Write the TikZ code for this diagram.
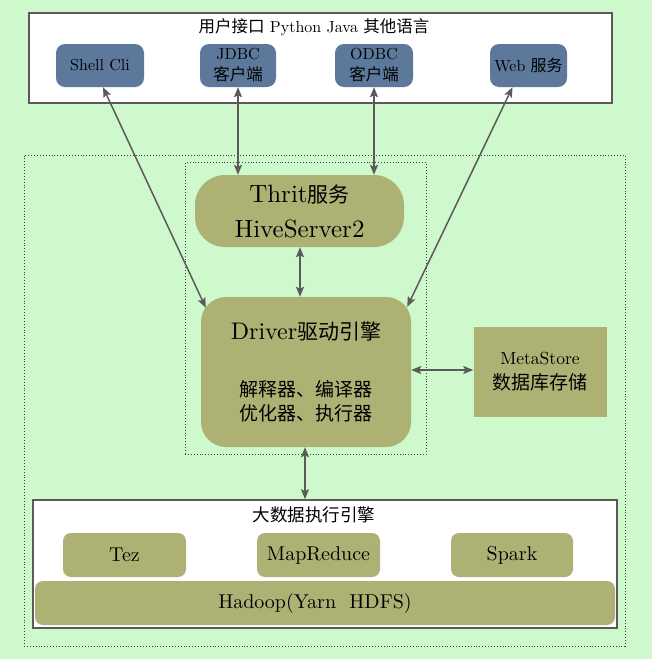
\documentclass[tikz,border=0pt]{standalone}
\usepackage{fontspec}
\setmainfont{lmroman10-regular.otf}
\newfontfamily\cjk{Noto Sans CJK SC}
\newcommand\latpart[2]{{\fontsize{#1}{#1}\selectfont #2}}
\newcommand\hanpart[2]{{\cjk\fontsize{#1}{#1}\selectfont #2}}
\usetikzlibrary{arrows.meta}
\definecolor{bggreen}{RGB}{205,249,205}
\definecolor{hiveolive}{RGB}{173,178,116}
\definecolor{hiveblue}{RGB}{92,121,156}
\definecolor{framegray}{RGB}{94,89,89}
\tikzset{
  groupbox/.style={draw=framegray, line width=1.6pt, fill=white, inner sep=0pt},
  dotbox/.style={draw=black!75, dotted, line width=0.9pt, inner sep=0pt},
  client/.style={fill=hiveblue, rounded corners=9pt, inner sep=0pt, align=center,
    font=\fontsize{16}{21}\selectfont},
  engine/.style={fill=hiveolive, rounded corners=8pt, inner sep=0pt, align=center,
    font=\fontsize{20}{24}\selectfont},
  caption/.style={inner sep=0pt, align=center},
  link/.style={draw=framegray, line width=1.5pt,
    {Stealth[length=10pt,width=8pt,inset=2pt]}-{Stealth[length=10pt,width=8pt,inset=2pt]}}
}
\begin{document}
\begin{tikzpicture}[x=1pt,y=-1pt]
\fill[bggreen] (0,0) rectangle (652,659);
\useasboundingbox (0,0) rectangle (652,659);

% user interface group
\node[groupbox, minimum width=583pt, minimum height=90pt] (top) at (320.5,58) {};
\node[caption, font=\fontsize{16}{20}\selectfont] (toptitle) at (314,27)
  {\hanpart{16.5}{用户接口}\ \latpart{16}{Python\ Java}\ \hanpart{16.5}{其他语言}};
\node[client, minimum width=88pt, minimum height=43pt] (shell) at (100,65.5) {Shell Cli};
\node[client, minimum width=76pt, minimum height=43pt] (jdbc) at (238,65.5)
  {JDBC\\\hanpart{16.5}{客户端}};
\node[client, minimum width=78pt, minimum height=43pt] (odbc) at (374,65.5)
  {ODBC\\\hanpart{16.5}{客户端}};
\node[client, minimum width=77pt, minimum height=43pt] (web) at (528.5,65.5)
  {Web \hanpart{16}{服务}};

% dotted containers
\node[dotbox, minimum width=601pt, minimum height=491pt] (outer) at (324.5,400.5) {};
\node[dotbox, minimum width=241pt, minimum height=292pt] (inner) at (305.5,308.5) {};

% Hive server & driver
\node[engine, rounded corners=30pt, minimum width=209pt, minimum height=72pt,
  font=\fontsize{25}{35}\selectfont] (thrift) at (299.5,211)
  {Thrit\hanpart{21}{服务}\\HiveServer2};
\node[engine, rounded corners=25pt, minimum width=210pt, minimum height=150pt] (driver) at (306,372) {};
\node[caption, font=\fontsize{24}{28}\selectfont] (drivertitle) at (306,331)
  {Driver\hanpart{21}{驱动引擎}};
\node[caption, font=\fontsize{19}{23.5}\selectfont] (driverbody) at (306,401)
  {\hanpart{19}{解释器、编译器}\\\hanpart{19}{优化器、执行器}};

% metastore
\node[engine, rounded corners=0pt, minimum width=133pt, minimum height=90pt,
  font=\fontsize{17.5}{25}\selectfont] (meta) at (540,372)
  {MetaStore\\\hanpart{19}{数据库存储}};

% execution engines
\node[groupbox, minimum width=584pt, minimum height=128pt] (exec) at (325,564) {};
\node[caption] (exectitle) at (314,515) {\hanpart{17.5}{大数据执行引擎}};
\node[engine, minimum width=123pt, minimum height=44pt] (tez) at (124.5,555) {Tez};
\node[engine, minimum width=123pt, minimum height=44pt] (mr) at (318.5,555) {MapReduce};
\node[engine, minimum width=122pt, minimum height=44pt] (spark) at (512,555) {Spark};
\node[engine, minimum width=580pt, minimum height=44pt] (hadoop) at (325,603) {};
\node[caption, font=\fontsize{20}{24}\selectfont] (hadooptext) at (315,603) {Hadoop(Yarn\ \ HDFS)};

% connectors
\draw[link] ([xshift=3pt]shell.south) -- ([shift={(5,11)}]driver.north west);
\draw[link] (jdbc.south) -- (jdbc.south |- thrift.north);
\draw[link] (odbc.south) -- (odbc.south |- thrift.north);
\draw[link] ([xshift=-16pt]web.south) -- ([shift={(-4,10)}]driver.north east);
\draw[link] (thrift.south -| 300,0) -- (driver.north -| 300,0);
\draw[link] (driver.east |- 0,370) -- (meta.west |- 0,370);
\draw[link] (driver.south -| 305,0) -- (exec.north -| 305,0);
\end{tikzpicture}
\end{document}
